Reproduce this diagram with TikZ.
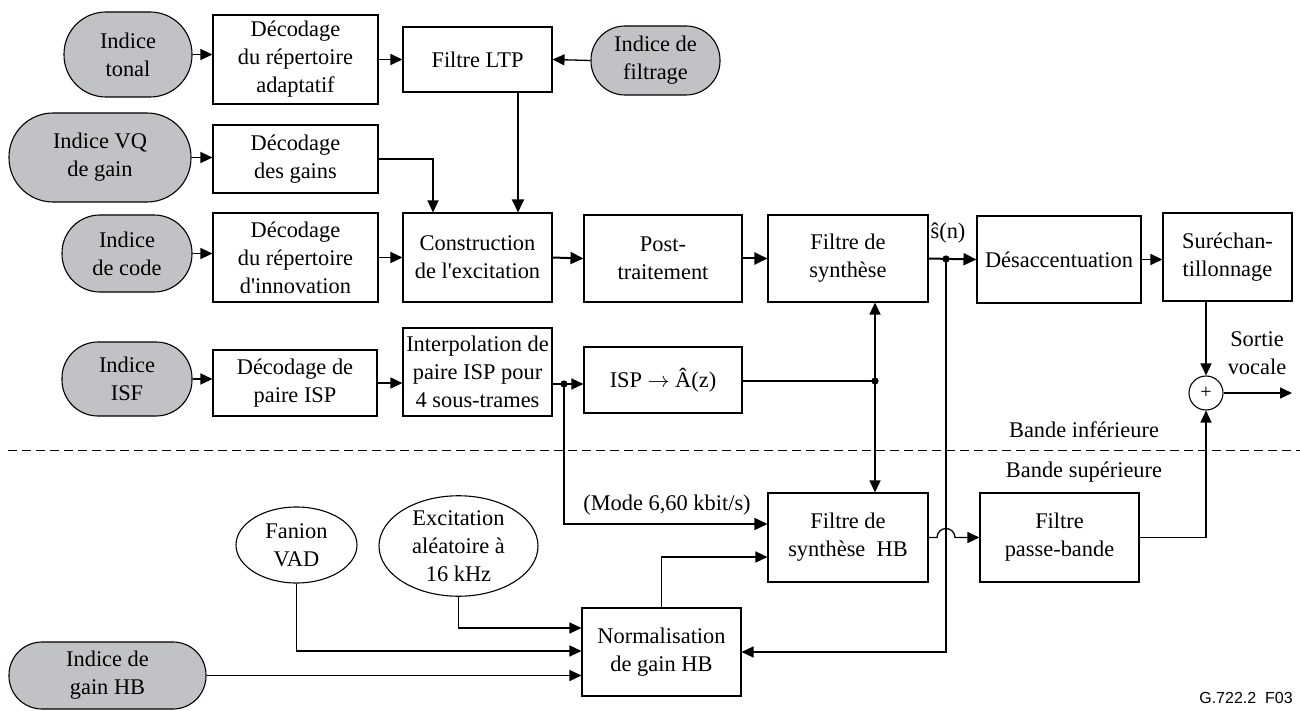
\documentclass[tikz,border=0pt]{standalone}
\usepackage{fontspec}
\setmainfont{Liberation Serif}
\newfontfamily\figsans{Liberation Sans}
\usetikzlibrary{arrows.meta,shapes.geometric}
\definecolor{idxgray}{RGB}{193,194,197}
\begin{document}
\begin{tikzpicture}[x=0.5pt,y=-0.5pt,
  every node/.style={font=\fontsize{11.2}{14}\selectfont, align=center, inner sep=0pt},
  blk/.style={draw, line width=0.55pt, rectangle},
  idx/.style={draw, line width=0.55pt, fill=idxgray},
  oval/.style={draw, line width=0.55pt, ellipse},
  wire/.style={line width=0.65pt},
  arr/.style={wire, -{Triangle[length=6pt,width=5.5pt]}},
  mainarr/.style={line width=1pt, -{Triangle[length=6.5pt,width=6pt]}},
  dot/.style={circle, fill, minimum size=3.6pt, inner sep=0pt},
]
\useasboundingbox (0,0) rectangle (1300,711);

% ---- input indices (grey stadiums)
\node[idx, rounded corners=21pt, minimum width=64pt, minimum height=42.5pt] (tonal) at (128,54.5) {Indice\\tonal};
\node[idx, rounded corners=17pt, minimum width=64.5pt, minimum height=34.5pt] (filtrage) at (655.5,60.5) {Indice de\\filtrage};
\node[idx, rounded corners=22pt, minimum width=91pt, minimum height=44.5pt] (vqgain) at (100,157.5) {Indice VQ\\de gain};
\node[idx, rounded corners=19pt, minimum width=65pt, minimum height=38.5pt] (code) at (127,253.5) {Indice\\de code};
\node[idx, rounded corners=18pt, minimum width=65pt, minimum height=37pt] (isf) at (127,379) {Indice\\ISF};
\node[idx, rounded corners=16.5pt, minimum width=98.5pt, minimum height=33.5pt] (gainhb) at (107.5,675.5) {Indice de\\gain HB};

% ---- processing blocks, lower band
\node[blk, minimum width=82.5pt, minimum height=44.5pt] (adapt) at (295.5,59.5) {Décodage\\du répertoire\\adaptatif};
\node[blk, minimum width=74.5pt, minimum height=32.5pt] (ltp) at (477.5,59.5) {Filtre LTP};
\node[blk, minimum width=82.5pt, minimum height=34pt] (gains) at (295.5,159) {Décodage\\des gains};
\node[blk, minimum width=82.5pt, minimum height=44.5pt] (innov) at (295.5,257.5) {Décodage\\du répertoire\\d\textquotesingle innovation};
\node[blk, minimum width=74.5pt, minimum height=44.5pt] (constr) at (477.5,257.5) {Construction\\de l\textquotesingle excitation};
\node[blk, minimum width=79pt, minimum height=43.5pt] (post) at (663,258.5) {Post-\\traitement};
\node[blk, minimum width=80pt, minimum height=43.5pt] (synth) at (848,258.5) {Filtre de\\synthèse};
\node[blk, minimum width=82pt, minimum height=43.5pt] (desacc) at (1059,259.5) {Désaccentuation};
\node[blk, minimum width=64.5pt, minimum height=44pt] (surech) at (1227.5,257) {Suréchan-\\tillonnage};
\node[blk, minimum width=82pt, minimum height=33pt] (isp) at (295,383) {Décodage de\\paire ISP};
\node[blk, minimum width=74.5pt, minimum height=44pt] (interp) at (477.5,372) {Interpolation de\\paire ISP pour\\4 sous-trames};
\node[blk, minimum width=79pt, minimum height=33pt] (ispA) at (663,380) {ISP $\rightarrow$ Â(z)};
\node[draw, circle, line width=0.55pt, minimum size=17pt, font=\fontsize{10}{12}\selectfont] (sum) at (1206,393) {+};

% ---- processing blocks, upper band
\node[blk, minimum width=80pt, minimum height=44.5pt] (synthhb) at (848,537.5) {Filtre de\\synthèse~~HB};
\node[blk, minimum width=79.5pt, minimum height=44.5pt] (passe) at (1059.5,537.5) {Filtre\\passe-bande};
\node[blk, minimum width=79.5pt, minimum height=44pt] (norm) at (661.5,652) {Normalisation\\de gain HB};
\node[oval, minimum width=60.5pt, minimum height=38pt] (fanion) at (296.5,545) {Fanion\\VAD};
\node[oval, minimum width=79.5pt, minimum height=46pt] (excit) at (458.5,546) {Excitation\\aléatoire à\\16 kHz};

% ---- labels
\node (shat) at (948,233) {ŝ(n)};
\node (sortie) at (1257,353) {Sortie\\vocale};
\node (binf) at (1084,430) {Bande inférieure};
\node (bsup) at (1084,472) {Bande supérieure};
\node (mode) at (667,505) {(Mode 6,60 kbit/s)};
\node[font=\figsans\fontsize{8}{10}\selectfont] (ref) at (1246,698) {G.722.2~~F03};

% ---- band separator
\coordinate (sepL) at (8,450);
\coordinate (sepR) at (1300,450);
\draw[line width=0.5pt, dash pattern=on 4.5pt off 2.5pt] (sepL) -- (sepR);

% ---- branch points
\coordinate (jI) at (564,384);
\coordinate (jA) at (875,381);
\coordinate (js) at (946,259);
\coordinate (out) at (1292,393);

% ---- connectors, lower band
\draw[arr] (tonal.east) -- (adapt.west |- tonal.east);
\draw[arr] (adapt.east) -- (ltp.west);
\draw[arr] (filtrage.west) -- (ltp.east);
\draw[arr] (vqgain.east) -- (gains.west |- vqgain.east);
\draw[arr] (gains.east) -| (constr.north -| 433,0);
\draw[mainarr] (ltp.south -| 518,0) -- (constr.north -| 518,0);
\draw[arr] (code.east) -- (innov.west |- code.east);
\draw[arr] (innov.east) -- (constr.west);
\draw[mainarr] (constr.east) -- (post.west);
\draw[mainarr] (post.east) -- (synth.west);
\draw[mainarr] (synth.east) -- (desacc.west);
\draw[arr] (desacc.east) -- (surech.west |- desacc.east);
\draw[arr] (isf.east) -- (isp.west |- isf.east);
\draw[arr] (isp.east) -- (interp.west |- isp.east);
\draw[arr] (interp.east |- jI) -- (ispA.west |- jI);
\draw[wire] (ispA.east |- jA) -- (jA);
\draw[arr] (jA) -- (jA |- synth.south);
\draw[arr] (jA) -- (jA |- synthhb.north);
\draw[arr] (surech.south -| sum.north) -- (sum.north);
\draw[arr] (sum.east) -- (out);

% ---- connectors, upper band
\draw[line width=0.8pt, -{Triangle[length=6.5pt,width=6pt]}] (jI) |- (synthhb.west |- 0,524);
\draw[arr] (norm.north) |- (synthhb.west |- 0,557);
\draw[arr] (synthhb.east) -- (937,537.5) arc[start angle=180, end angle=0, radius=4.5pt] -- (passe.west);
\draw[arr] (passe.east) -| (sum.south);
\draw[arr] (js) |- (norm.east);
\draw[arr] (excit.south) |- (norm.west |- 0,628);
\draw[arr] (fanion.south) |- (norm.west |- 0,651);
\draw[arr] (gainhb.east) -- (norm.west |- gainhb.east);

% ---- junction dots
\node[dot] at (jI) {};
\node[dot] at (jA) {};
\node[dot] at (js) {};
\end{tikzpicture}
\end{document}
